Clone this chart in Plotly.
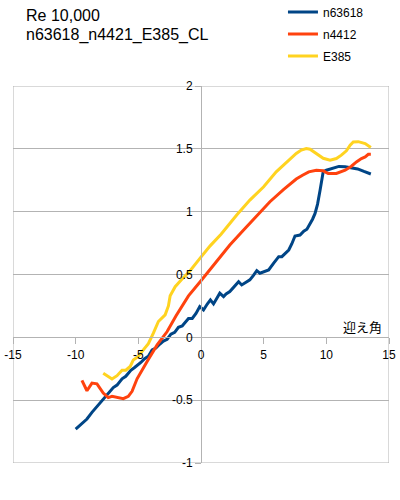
import plotly.graph_objects as go

# ---- data (angle of attack in degrees, CL) ----
n63618_alpha = [-10.0, -9.4, -9.1, -8.7, -8.3, -8.0, -7.6, -7.3, -7.0, -6.7, -6.3, -6.0, -5.6, -5.3,
                -5.1, -4.8, -4.5, -4.2, -3.9, -3.6, -3.3, -3.0, -2.7, -2.4, -2.1, -1.8, -1.5, -1.2,
                -1.0, -0.7, -0.4, -0.1, 0.2, 0.5, 0.75, 1.0, 1.25, 1.5, 1.8, 2.0, 2.3, 2.6, 3.0,
                3.25, 3.5, 3.9, 4.2, 4.45, 4.7, 5.0, 5.4, 5.8, 6.2, 6.45, 6.7, 7.0, 7.25, 7.5, 7.9,
                8.2, 8.45, 8.7, 8.9, 9.1, 9.3, 9.5, 9.65, 9.75, 10.0, 10.5, 11.0, 11.5, 12.0, 12.5,
                13.0, 13.55]
n63618_cl = [-0.730, -0.672, -0.650, -0.597, -0.552, -0.515, -0.468, -0.440, -0.400, -0.380, -0.330,
             -0.310, -0.262, -0.240, -0.226, -0.200, -0.170, -0.150, -0.100, -0.085, -0.055, -0.030,
             -0.015, 0.025, 0.040, 0.080, 0.090, 0.130, 0.150, 0.150, 0.190, 0.245, 0.218, 0.265,
             0.298, 0.266, 0.310, 0.351, 0.324, 0.345, 0.364, 0.395, 0.443, 0.417, 0.435, 0.457,
             0.495, 0.531, 0.510, 0.520, 0.536, 0.590, 0.642, 0.642, 0.670, 0.695, 0.745, 0.806,
             0.814, 0.845, 0.860, 0.900, 0.940, 0.986, 1.060, 1.170, 1.260, 1.317, 1.330, 1.342,
             1.360, 1.357, 1.350, 1.340, 1.320, 1.300]

n4412_alpha = [-9.5, -9.1, -8.7, -8.3, -7.8, -7.4, -7.1, -6.6, -6.2, -5.8, -5.5, -5.1, -4.85, -4.3,
               -3.5, -2.7, -2.0, -1.0, 0.0, 1.4, 2.3, 3.4, 4.45, 5.5, 6.6, 7.1, 7.6, 8.1, 8.6, 9.2,
               9.75, 10.15, 10.8, 11.5, 12.0, 12.4, 12.8, 13.1, 13.35, 13.55]
n4412_cl = [-0.343, -0.425, -0.364, -0.370, -0.443, -0.480, -0.470, -0.483, -0.488, -0.470, -0.430,
            -0.330, -0.290, -0.192, -0.060, 0.046, 0.170, 0.330, 0.450, 0.629, 0.735, 0.854, 0.965,
            1.079, 1.177, 1.215, 1.260, 1.290, 1.317, 1.330, 1.325, 1.304, 1.304, 1.330, 1.362,
            1.396, 1.423, 1.436, 1.457, 1.457]

e385_alpha = [-7.8, -7.1, -6.7, -6.3, -6.0, -5.65, -5.4, -5.0, -4.6, -4.2, -3.8, -3.4, -2.86, -2.6,
              -2.46, -2.06, -1.6, -0.87, -0.07, 0.73, 1.6, 2.85, 3.9, 5.0, 6.0, 7.1, 7.6, 8.0, 8.4,
              8.7, 9.2, 9.75, 10.3, 10.8, 11.2, 11.6, 11.9, 12.15, 12.55, 13.1, 13.55]
e385_cl = [-0.286, -0.332, -0.305, -0.262, -0.262, -0.232, -0.180, -0.152, -0.100, -0.050, 0.033,
           0.126, 0.179, 0.250, 0.330, 0.403, 0.455, 0.530, 0.630, 0.728, 0.820, 0.973, 1.092,
           1.198, 1.317, 1.423, 1.463, 1.490, 1.503, 1.497, 1.465, 1.425, 1.410, 1.423, 1.450,
           1.484, 1.529, 1.555, 1.557, 1.542, 1.510]

series_names = ["n63618", "n4412", "E385"]
series_colors = ["#004586", "#ff420e", "#ffd320"]

x_tickvals = [-15, -10, -5, 0, 5, 10, 15]
x_ticktext = ["-15", "-10", "-5", "0", "5", "10", "15"]
y_tickvals = [-1, -0.5, 0, 0.5, 1, 1.5, 2]
y_ticktext = ["-1", "-0.5", "0", "0.5", "1", "1.5", "2"]

title_lines = ["Re 10,000", "n63618_n4421_E385_CL"]
x_title = "迎え角"

FONT = "Liberation Sans, Arial, sans-serif"
GRID = "#b3b3b3"

fig = go.Figure()
for name, color, xs, ys in zip(series_names, series_colors,
                               [n63618_alpha, n4412_alpha, e385_alpha],
                               [n63618_cl, n4412_cl, e385_cl]):
    fig.add_trace(go.Scatter(x=xs, y=ys, mode="lines", name=name, legendgroup=name,
                             line=dict(color=color, width=3)))

fig.update_layout(
    width=400, height=500,
    margin=dict(l=13, r=11, t=86, b=37, autoexpand=False),
    paper_bgcolor="white", plot_bgcolor="white",
    font=dict(family=FONT, size=12, color="#000000"),
    showlegend=True,
    legend=dict(x=0.718, y=1.235, xanchor="left", yanchor="top",
                traceorder="grouped", tracegroupgap=3,
                font=dict(family=FONT, size=12, color="#000000"),
                bgcolor="rgba(0,0,0,0)"),
    xaxis=dict(range=[-15, 15], tickvals=x_tickvals, ticktext=x_ticktext, automargin=False,
               anchor="free", position=1/3, showline=True, linecolor=GRID, linewidth=1,
               ticks="outside", ticklen=6, tickcolor=GRID, showgrid=False, zeroline=False,
               tickfont=dict(size=12)),
    yaxis=dict(range=[-1, 2], tickvals=y_tickvals, ticktext=y_ticktext, automargin=False,
               anchor="free", position=0.5, showline=True, linecolor=GRID, linewidth=1,
               ticks="outside", ticklen=6, tickcolor=GRID, showgrid=True, gridcolor=GRID,
               gridwidth=1, zeroline=False, tickfont=dict(size=12)),
    shapes=[dict(type="rect", xref="x", yref="y", x0=-15, x1=15, y0=-1, y1=2,
                 line=dict(color=GRID, width=1), layer="below")],
    annotations=[
        dict(text=title_lines[0], xref="paper", yref="paper", x=(24 - 13) / 376,
             y=1 + (86 - 15.5) / 377, xanchor="left", yanchor="middle", showarrow=False,
             font=dict(family=FONT, size=16, color="#000000")),
        dict(text=title_lines[1], xref="paper", yref="paper", x=(24 - 13) / 376,
             y=1 + (86 - 34.5) / 377, xanchor="left", yanchor="middle", showarrow=False,
             font=dict(family=FONT, size=16, color="#000000")),
        dict(text=x_title, xref="x", yref="y", x=14.6, y=0.087, xanchor="right",
             yanchor="middle", showarrow=False,
             font=dict(family="Noto Sans CJK JP", size=13, color="#000000")),
    ],
)

fig.write_html("out.html", config={"displayModeBar": False},
               post_script="document.body.style.margin='0';")
